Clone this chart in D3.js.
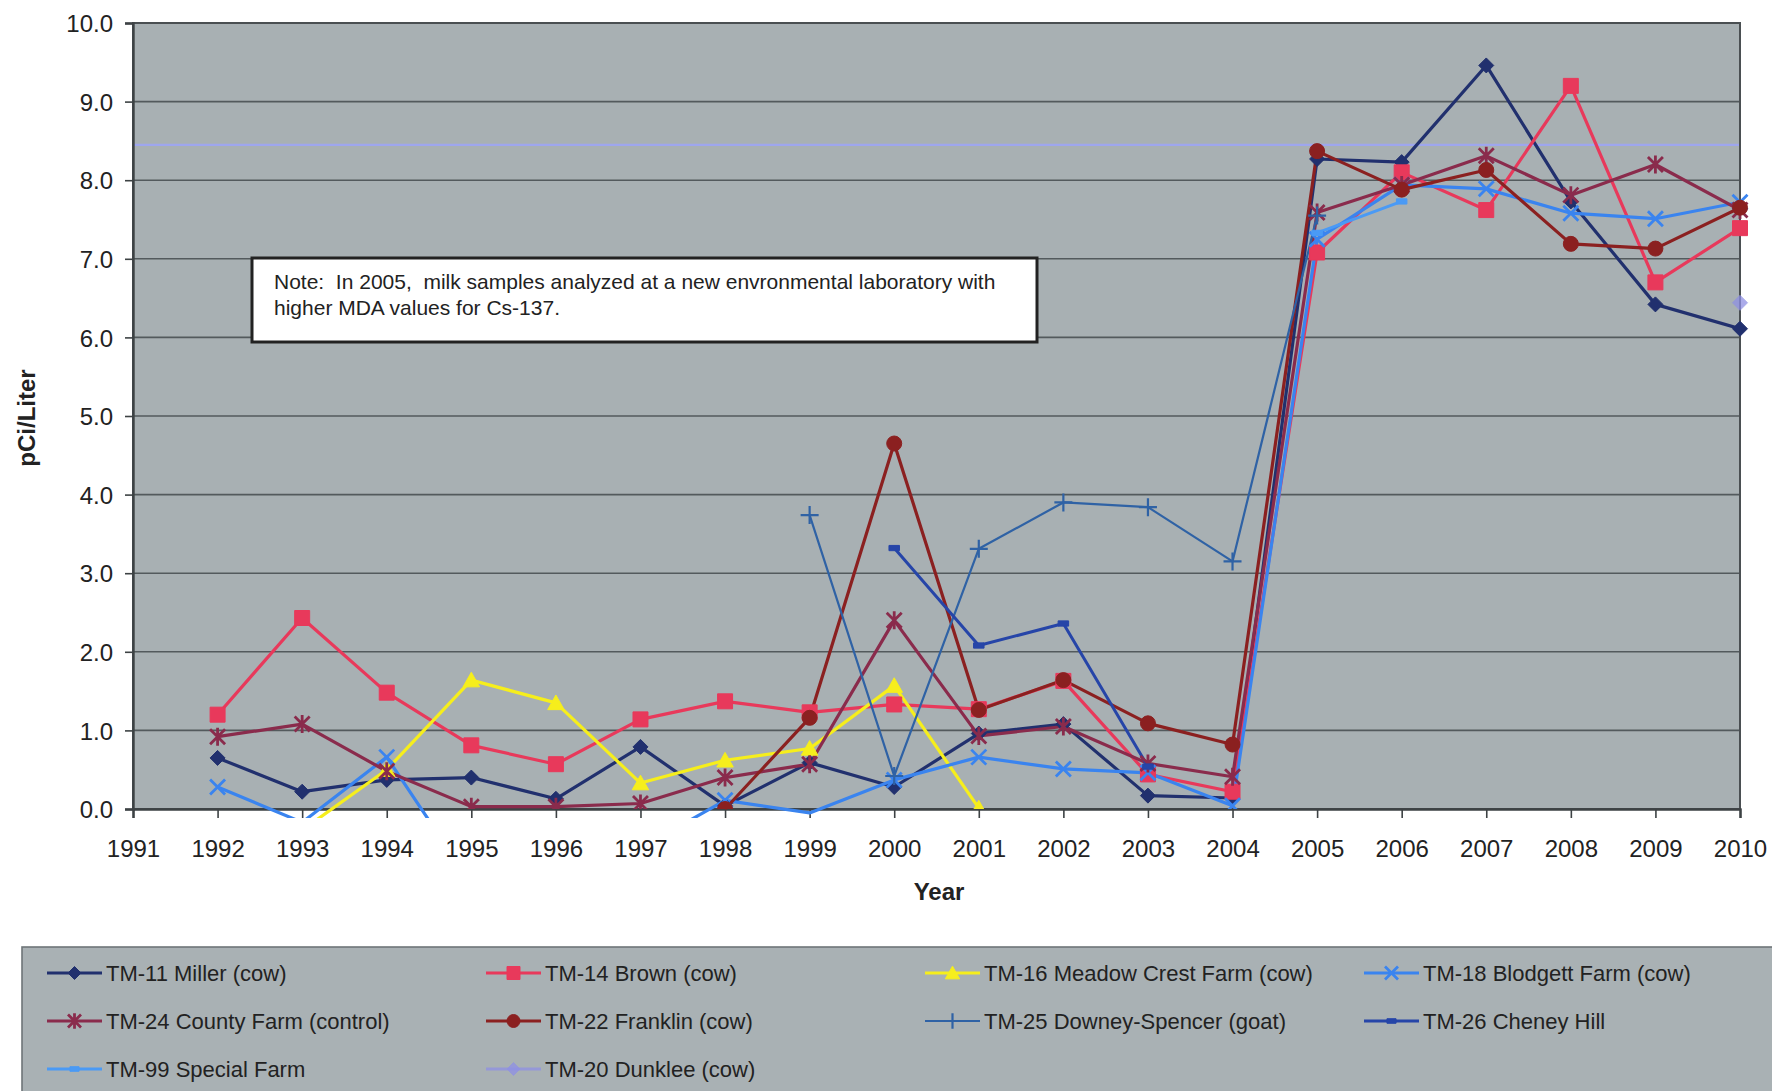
<!DOCTYPE html>
<html><head><meta charset="utf-8">
<script src="https://cdn.jsdelivr.net/npm/d3@7"></script>
<style>
body{margin:0;background:#fff;}
svg{display:block;font-family:"Liberation Sans",Arial,Helvetica,sans-serif;}
</style></head><body>
<svg id="chart" width="1772" height="1091"></svg>
<script>
// ---------- data ----------
const tickYears = [1991,1992,1993,1994,1995,1996,1997,1998,1999,2000,2001,2002,2003,2004,2005,2006,2007,2008,2009,2010];
const dataYears = [1992,1993,1994,1995,1996,1997,1998,1999,2000,2001,2002,2003,2004,2005,2006,2007,2008,2009,2010];
const yTicks = [0,1,2,3,4,5,6,7,8,9,10];

const tm11 = [0.65,0.22,0.37,0.40,0.13,0.79,0.04,0.59,0.28,0.96,1.08,0.17,0.14,8.27,8.23,9.46,7.73,6.42,6.11];
const tm14 = [1.20,2.43,1.48,0.81,0.57,1.14,1.37,1.23,1.33,1.27,1.63,0.44,0.22,7.08,8.10,7.62,9.20,6.70,7.39];
const tm16 = [null,-0.27,0.50,1.64,1.35,0.33,0.62,0.77,1.57,0.01,null,null,null,null,null,null,null,null,null];
const tm18 = [0.28,-0.17,0.66,-0.95,-0.80,-0.50,0.11,-0.05,0.37,0.66,0.51,0.46,0.04,7.25,7.94,7.89,7.58,7.51,7.72];
const tm24 = [0.92,1.08,0.48,0.03,0.03,0.07,0.40,0.57,2.40,0.93,1.05,0.58,0.41,7.59,7.94,8.31,7.81,8.20,7.62];
const tm22 = [null,null,null,null,null,null,0.00,1.16,4.65,1.26,1.64,1.09,0.82,8.37,7.88,8.13,7.19,7.13,7.65];
const tm25 = [null,null,null,null,null,null,null,3.74,0.42,3.31,3.90,3.84,3.15,7.55,null,null,null,null,null];
const tm26 = [null,null,null,null,null,null,null,null,3.32,2.08,2.36,0.54,null,null,null,null,null,null,null];
const tm99 = [null,null,null,null,null,null,null,null,null,null,null,null,null,7.33,7.73,null,null,null,null];
const tm20 = [null,null,null,null,null,null,null,null,null,null,null,null,null,null,null,null,null,null,6.44];

const seriesNames = ["TM-11 Miller (cow)","TM-14 Brown (cow)","TM-16 Meadow Crest Farm (cow)","TM-18 Blodgett Farm (cow)",
  "TM-24 County Farm (control)","TM-22 Franklin (cow)","TM-25 Downey-Spencer (goat)","TM-26 Cheney Hill",
  "TM-99 Special Farm","TM-20 Dunklee (cow)"];
const seriesValues = [tm11,tm14,tm16,tm18,tm24,tm22,tm25,tm26,tm99,tm20];
const seriesColors = ["#21306e","#e8395b","#f6ee1c","#3a84ef","#8a2b4c","#8b2020","#2f62a5","#2645a8","#4a9af5","#8f90e4"];
const seriesMarkers = ["diamond","square","triangle","x","asterisk","circle","plus","dash","dash","diamond"];
const seriesWidths = [3.2,3.2,3.2,3.2,3.2,3.2,2.2,3,3,3];
const mdaLine = 8.45;
const noteLines = ["Note:  In 2005,  milk samples analyzed at a new envronmental laboratory with","higher MDA values for Cs-137."];

// ---------- layout ----------
const svg = d3.select("#chart");
const L = 133, R = 1740, T = 23, B = 809;
const x = d3.scaleLinear().domain([1991,2010]).range([L,R]);
const y = d3.scaleLinear().domain([0,10]).range([B,T]);

const defs = svg.append("defs");
defs.append("clipPath").attr("id","clipLine").append("rect").attr("x",L).attr("y",T).attr("width",R-L).attr("height",B-T+9);
defs.append("clipPath").attr("id","clipMark").append("rect").attr("x",L-10).attr("y",T-10).attr("width",R-L+20).attr("height",B-T+10);

// plot background
svg.append("rect").attr("x",L).attr("y",T).attr("width",R-L).attr("height",B-T).attr("fill","#a8b0b3");

// gridlines
svg.append("g").selectAll("line").data(yTicks.filter(d=>d>0 && d<10)).join("line")
  .attr("x1",L).attr("x2",R).attr("y1",d=>y(d)).attr("y2",d=>y(d))
  .attr("stroke","#535a5d").attr("stroke-width",1.6);

// MDA reference line
svg.append("line").attr("x1",L).attr("x2",R).attr("y1",y(mdaLine)).attr("y2",y(mdaLine))
  .attr("stroke","#9ea6ee").attr("stroke-width",2.2);

// plot border
svg.append("rect").attr("x",L).attr("y",T).attr("width",R-L).attr("height",B-T)
  .attr("fill","none").attr("stroke","#4a4f52").attr("stroke-width",2);

// axes
const yAxis = svg.append("g").attr("transform",`translate(${L},0)`)
  .call(d3.axisLeft(y).tickValues(yTicks).tickFormat(d3.format(".1f")).tickSize(8).tickPadding(12));
const xAxis = svg.append("g").attr("transform",`translate(0,${B})`)
  .call(d3.axisBottom(x).tickValues(tickYears).tickFormat(d3.format("d")).tickSize(9).tickPadding(0));
[yAxis,xAxis].forEach(g=>{
  g.select(".domain").attr("stroke","#3d4244").attr("stroke-width",2.4);
  g.selectAll(".tick line").attr("stroke","#3d4244").attr("stroke-width",1.6);
  g.selectAll("text").attr("fill","#222").style("font-size","24px").style("font-family","'Liberation Sans',Arial,sans-serif");
});
xAxis.selectAll("text").attr("dy",null).attr("y",48);
yAxis.selectAll("text").attr("dy","0.36em");

// axis titles
svg.append("text").attr("transform","translate(35,418) rotate(-90)").attr("text-anchor","middle")
  .attr("font-weight","bold").attr("font-size",24).attr("fill","#222").text("pCi/Liter");
svg.append("text").attr("x",939).attr("y",900).attr("text-anchor","middle")
  .attr("font-weight","bold").attr("font-size",24).attr("fill","#222").text("Year");

// markers
function markerPath(type, s){
  switch(type){
    case "diamond": return `M0,${-s}L${s},0L0,${s}L${-s},0Z`;
    case "square": return `M${-s},${-s}H${s}V${s}H${-s}Z`;
    case "triangle": return `M0,${-s*1.05}L${s*1.1},${s*0.9}L${-s*1.1},${s*0.9}Z`;
    case "x": return `M${-s},${-s}L${s},${s}M${s},${-s}L${-s},${s}`;
    case "asterisk": return `M${-s},${-s}L${s},${s}M${s},${-s}L${-s},${s}M0,${-s*1.2}V${s*1.2}`;
    case "plus": return `M${-s*1.2},0H${s*1.2}M0,${-s*1.2}V${s*1.2}`;
    case "dash": return `M${-s*0.7},${-s*0.35}H${s*0.7}V${s*0.35}H${-s*0.7}Z`;
    case "circle": return d3.symbol(d3.symbolCircle, Math.PI*s*s)();
  }
}
const filled = t => ["diamond","square","triangle","circle","dash"].includes(t);
function drawMarker(g, type, color, s, px, py, opacity){
  g.append("path").attr("d",markerPath(type,s)).attr("transform",`translate(${px},${py})`)
    .attr("fill",filled(type)?color:"none").attr("stroke",color)
    .attr("stroke-width",filled(type)?1:(type==="plus"?2.2:2.8))
    .attr("opacity",opacity);
}

// series
const line = d3.line().defined(d=>d.v!==null).x(d=>x(d.year)).y(d=>y(d.v));
const linesG = svg.append("g").attr("clip-path","url(#clipLine)");
const marksG = svg.append("g").attr("clip-path","url(#clipMark)");
seriesValues.forEach((vals,i)=>{
  const pts = dataYears.map((yr,j)=>({year:yr, v:vals[j]}));
  const op = i===9 ? 0.75 : 1;
  linesG.append("path").datum(pts).attr("d",line).attr("fill","none")
    .attr("stroke",seriesColors[i]).attr("stroke-width",seriesWidths[i])
    .attr("stroke-linejoin","round").attr("opacity",op);
  const ms = 7.5;
  pts.filter(p=>p.v!==null && p.v>=0).forEach(p=>{
    drawMarker(marksG, seriesMarkers[i], seriesColors[i], ms, x(p.year), y(p.v), op);
  });
});

// note box
svg.append("rect").attr("x",252).attr("y",258).attr("width",785).attr("height",84)
  .attr("fill","#fff").attr("stroke","#222").attr("stroke-width",3);
noteLines.forEach((t,i)=>{
  svg.append("text").attr("x",274).attr("y",289+i*26).attr("font-size",21).attr("fill","#222")
    .attr("xml:space","preserve").style("white-space","pre").text(t);
});

// legend
svg.append("rect").attr("x",22).attr("y",947).attr("width",1800).attr("height",200)
  .attr("fill","#a9b1b4").attr("stroke","#6e7578").attr("stroke-width",1.6);
const legCols = [47,486,925,1364], legRows = [973,1021,1069];
const legG = svg.append("g");
seriesNames.forEach((name,i)=>{
  const cx = legCols[i%4], cy = legRows[Math.floor(i/4)];
  const op = i===9 ? 0.75 : 1;
  legG.append("line").attr("x1",cx).attr("x2",cx+55).attr("y1",cy).attr("y2",cy)
    .attr("stroke",seriesColors[i]).attr("stroke-width",seriesWidths[i]).attr("opacity",op);
  drawMarker(legG, seriesMarkers[i], seriesColors[i], 6.5, cx+27.5, cy, op);
  legG.append("text").attr("x",cx+59).attr("y",cy+8).attr("font-size",22).attr("fill","#222").text(name);
});
</script>
</body></html>
